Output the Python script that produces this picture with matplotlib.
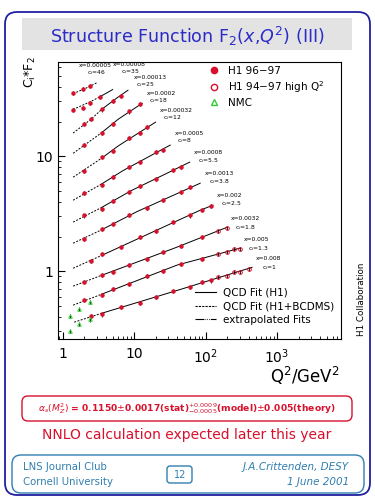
import matplotlib
matplotlib.use("Agg")
import matplotlib.pyplot as plt
from matplotlib.lines import Line2D
from matplotlib.patches import FancyBboxPatch

# ---- data (Q^2 in GeV^2, value = c_i * F2) ----
BIN_X = ["0.00005", "0.00008", "0.00013", "0.0002", "0.00032", "0.0005",
         "0.0008", "0.0013", "0.002", "0.0032", "0.005", "0.008"]
BIN_C = ["46", "35", "25", "18", "12", "8", "5.5", "3.8", "2.5", "1.8", "1.3", "1"]

# QCD fit curves, one list per x bin
FIT_Q2 = [
    [1.4, 2.2, 3.1],
    [1.4, 2.5, 3.5, 5.0],
    [1.4, 2.5, 3.5, 5.5, 8.2],
    [1.4, 3.5, 6.0, 13.0],
    [1.4, 3.5, 6.0, 20.0],
    [1.4, 3.5, 7.0, 32.0],
    [1.4, 3.5, 9.0, 60.0],
    [1.4, 3.5, 11.0, 84.0],
    [1.4, 3.5, 84.0, 127.0],
    [1.4, 3.5, 40.0, 200.0],
    [1.4, 3.5, 40.0, 303.0],
    [1.45, 3.5, 40.0, 447.0],
]
FIT_F = [
    [35.0, 39.5, 44.0],
    [25.5, 30.0, 33.5, 38.0],
    [15.9, 21.0, 25.5, 31.5, 37.5],
    [10.6, 16.0, 21.0, 28.9],
    [6.57, 9.6, 12.3, 19.8],
    [4.14, 5.73, 7.5, 12.5],
    [2.67, 3.58, 5.0, 8.88],
    [1.75, 2.29, 3.3, 5.82],
    [1.06, 1.37, 3.39, 3.75],
    [0.741, 0.92, 1.62, 2.41],
    [0.506, 0.63, 1.13, 1.585],
    [0.36, 0.43, 0.68, 1.08],
]

# H1 96-97 points
H1_Q2 = [
    [1.4, 1.9, 2.4],
    [1.4, 1.9, 2.4, 3.3],
    [2.0, 2.5, 3.5, 5.0, 6.5],
    [2.0, 3.5, 5.0, 8.5, 12.0],
    [2.0, 3.5, 5.0, 8.5, 12.0, 15.0],
    [2.0, 3.5, 5.0, 8.5, 12.0, 20.0, 25.0],
    [2.0, 3.5, 5.0, 8.5, 12.0, 20.0, 35.0, 45.0],
    [2.0, 3.5, 5.0, 8.5, 15.0, 25.0, 45.0, 60.0],
    [2.5, 3.5, 6.5, 12.0, 20.0, 35.0, 60.0, 90.0, 120.0],
    [2.0, 3.5, 5.0, 8.5, 15.0, 25.0, 45.0, 90.0],
    [2.0, 3.5, 5.0, 8.5, 15.0, 25.0, 45.0, 90.0],
    [2.5, 3.5, 6.5, 12.0, 20.0, 35.0, 60.0, 90.0, 120.0],
]
H1_F = [
    [35.3, 38.2, 40.6],
    [25.1, 26.5, 28.9, 32.6],
    [19.0, 21.0, 25.5, 30.2, 33.6],
    [12.5, 16.0, 18.9, 24.5, 28.7],
    [7.5, 9.8, 11.1, 14.3, 16.0, 17.9],
    [4.8, 5.6, 6.6, 8.1, 8.9, 10.8, 11.4],
    [3.05, 3.50, 4.1, 4.85, 5.5, 6.3, 7.6, 8.1],
    [1.90, 2.33, 2.55, 3.08, 3.55, 4.2, 4.85, 5.35],
    [1.22, 1.40, 1.62, 1.98, 2.22, 2.66, 3.05, 3.42, 3.66],
    [0.80, 0.93, 0.99, 1.14, 1.27, 1.46, 1.66, 2.0],
    [0.56, 0.62, 0.70, 0.77, 0.90, 1.00, 1.16, 1.28],
    [0.41, 0.42, 0.49, 0.53, 0.60, 0.67, 0.73, 0.80, 0.83],
]

# H1 94-97 high Q^2 (only the three largest-x bins reach this far)
HQ_Q2 = [[150.0, 200.0], [150.0, 200.0, 250.0, 300.0], [150.0, 200.0, 250.0, 300.0, 400.0]]
HQ_F = [[2.22, 2.38], [1.42, 1.47, 1.55, 1.57], [0.89, 0.91, 0.98, 0.99, 1.05]]

# NMC
NMC_Q2 = [1.25, 1.7, 2.4, 1.25, 1.7, 2.4]
NMC_F = [0.406, 0.467, 0.538, 0.30, 0.345, 0.38]

REL_ERR = 0.04
Q2_EXTRAP = 3.5

# label offsets (points) from the end of each curve: (x label, c label)
LABEL_OFFSETS = [
    ((-14, 12), (-8, 7)), ((0, 18), (6, 13)),
    ((4, 9), (6, 4)), ((3, 7), (5, 2)), ((3, 8), (5, 3)), ((3, 8), (5, 3)),
    ((3, 7), (6, 1)), ((3, 7), (6, 1)), ((3, 7), (6, 1)), ((3, 6), (6, 0)),
    ((3, 6), (6, 0)), ((3, 6), (7, 0)),
]

RED = "#d8102c"
GREEN = "#33cc33"
BLUE = "#2b2bc8"
TEAL = "#2f7fb0"

fig = plt.figure(figsize=(3.75, 5.0), dpi=100)

# slide decoration, drawn in pixel units
bg = fig.add_axes([0, 0, 1, 1], zorder=0)
bg.set_xlim(0, 375)
bg.set_ylim(500, 0)
bg.axis("off")


def rbox(x0, y0, x1, y1, r, ec, fc="none", lw=1.0):
    bg.add_patch(FancyBboxPatch((x0 + r, y0 + r), x1 - x0 - 2 * r, y1 - y0 - 2 * r,
                                boxstyle=f"round,pad={r}", ec=ec, fc=fc, lw=lw))


rbox(5, 12, 370, 495, 12, "#2020a0", lw=1.3)
bg.add_patch(plt.Rectangle((22, 18), 330, 32, fc="#e3e3e3", ec="none"))
bg.text(187, 36, r"Structure Function F$_2$($x$,$Q^2$) (III)", color=BLUE,
        fontsize=12.6, ha="center", va="center")

rbox(22, 396, 352, 421, 6, RED, lw=1.0)
bg.text(187, 409, r"$\alpha_s(M_Z^2)$ = 0.1150$\pm$0.0017(stat)$^{+0.0009}_{-0.0005}$"
        r"(model)$\pm$0.005(theory)", color=RED, fontsize=6.6, ha="center",
        va="center", fontweight="bold")
bg.text(187, 435, "NNLO calculation expected later this year", color=RED,
        fontsize=10, ha="center", va="center")

rbox(12, 455, 364, 493, 9, TEAL, lw=1.0)
bg.text(23, 467, "LNS Journal Club", color=TEAL, fontsize=7.3, va="center")
bg.text(23, 482, "Cornell University", color=TEAL, fontsize=7.3, va="center")
rbox(167, 466, 192, 483, 3, TEAL, lw=1.0)
bg.text(180, 475, "12", color=TEAL, fontsize=7, ha="center", va="center")
bg.text(349, 467, "J.A.Crittenden, DESY", color=TEAL, fontsize=7.5, ha="right",
        va="center", style="italic")
bg.text(349, 482, "1 June 2001", color=TEAL, fontsize=7.5, ha="right",
        va="center", style="italic")

bg.text(362, 299, "H1 Collaboration", rotation=90, fontsize=6.3, ha="center", va="center")
bg.text(30, 72, r"C$_\mathregular{i}$*F$_2$", rotation=90, fontsize=9, ha="center", va="center")
bg.text(340, 376, r"Q$^2$/GeV$^2$", fontsize=12, ha="right", va="center")

# the plot itself
ax = fig.add_axes([58 / 375, 1 - 339 / 500, 283 / 375, 277 / 500], zorder=1)
ax.set_xscale("log")
ax.set_yscale("log")
ax.set_xlim(0.86, 7850)
ax.set_ylim(0.257, 66)

for q, f in zip(FIT_Q2, FIT_F):
    lo = [i for i, v in enumerate(q) if v <= Q2_EXTRAP]
    hi = [i for i, v in enumerate(q) if v >= Q2_EXTRAP]
    ax.plot([q[i] for i in lo], [f[i] for i in lo], color="k", lw=0.7, ls=(0, (2, 1.5)))
    if len(hi) > 1:
        ax.plot([q[i] for i in hi], [f[i] for i in hi], color="k", lw=0.7)

for q, f in zip(H1_Q2, H1_F):
    ax.errorbar(q, f, yerr=[v * REL_ERR for v in f], fmt="o", ms=2.2, color=RED,
                ecolor="k", elinewidth=0.6, capsize=0, zorder=3)

for q, f in zip(HQ_Q2, HQ_F):
    ax.errorbar(q, f, yerr=[v * REL_ERR for v in f], fmt="o", ms=2.6, mfc="none",
                mec=RED, mew=0.7, ecolor="k", elinewidth=0.6, capsize=0, zorder=3)

ax.errorbar(NMC_Q2, NMC_F, yerr=[v * REL_ERR for v in NMC_F], fmt="^", ms=2.6,
            mfc="none", mec=GREEN, mew=0.7, ecolor="k", elinewidth=0.6, capsize=0, zorder=3)

for xs, cs, q, f, (ox, oc) in zip(BIN_X, BIN_C, FIT_Q2, FIT_F, LABEL_OFFSETS):
    ax.annotate(f"x={xs}", (q[-1], f[-1]), textcoords="offset points", xytext=ox,
                fontsize=4.3, ha="left", va="center")
    ax.annotate(r"c$_\mathregular{i}$=" + cs, (q[-1], f[-1]), textcoords="offset points",
                xytext=oc, fontsize=4.3, ha="left", va="center")

ax.set_xticks([1, 10, 100, 1000])
ax.set_xticklabels(["1", "10", r"10$^2$", r"10$^3$"])
ax.set_yticks([1, 10])
ax.set_yticklabels(["1", "10"])
ax.tick_params(which="both", direction="in", labelsize=10, top=False, right=False)
ax.tick_params(which="major", length=5, width=0.8)
ax.tick_params(which="minor", length=2.5, width=0.6)
ax.tick_params(axis="x", pad=6)
for s in ax.spines.values():
    s.set_linewidth(0.8)

h1 = [
    Line2D([], [], ls="none", marker="o", ms=4.5, color=RED),
    Line2D([], [], ls="none", marker="o", ms=4.5, mfc="none", mec=RED),
    Line2D([], [], ls="none", marker="^", ms=4.5, mfc="none", mec=GREEN),
]
leg1 = ax.legend(h1, ["H1 96\u221297", "H1 94\u221297 high Q$^2$", "NMC"], loc="upper left",
                 bbox_to_anchor=(0.5, 1.02), frameon=False, fontsize=7.5, handlelength=1,
                 handletextpad=0.8, labelspacing=0.3)
ax.add_artist(leg1)
h2 = [
    Line2D([], [], color="k", lw=0.8),
    Line2D([], [], color="k", lw=0.8, ls=(0, (2, 1))),
    Line2D([], [], color="k", lw=0.8, ls=(0, (8, 1, 0.6, 1, 0.6, 1, 0.6, 1))),
]
ax.legend(h2, ["QCD Fit (H1)", "QCD Fit (H1+BCDMS)", "extrapolated Fits"], loc="lower left",
          bbox_to_anchor=(0.45, 0.017), frameon=False, fontsize=7.5, handlelength=2.0,
          handletextpad=0.7, labelspacing=0.35)

fig.savefig("out.png", dpi=100)
